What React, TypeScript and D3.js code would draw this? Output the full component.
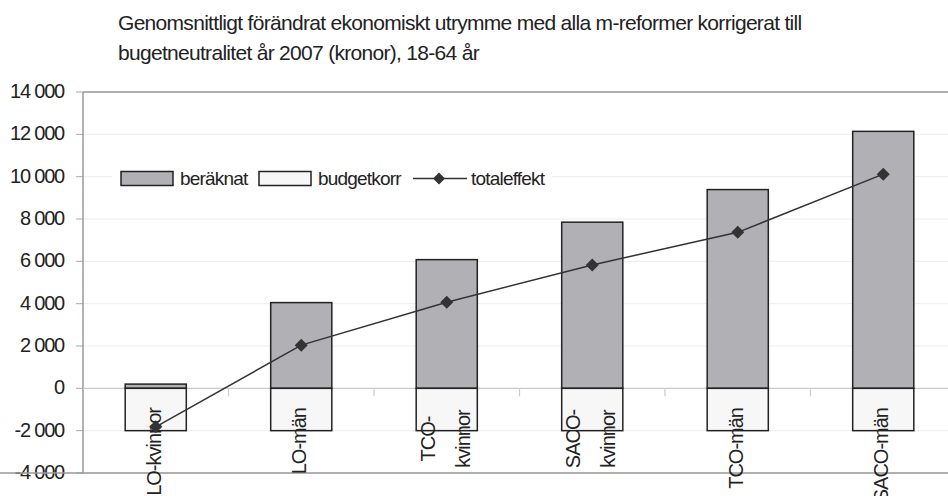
import React from "react";
import * as d3 from "d3";

const categories = ["LO-kvinnor", "LO-män", "TCO-kvinnor", "SACO-kvinnor", "TCO-män", "SACO-män"];
const categoryLines = [["LO-kvinnor"], ["LO-män"], ["TCO-", "kvinnor"], ["SACO-", "kvinnor"], ["TCO-män"], ["SACO-män"]];
const beraknat = [200, 4050, 6080, 7850, 9390, 12140];
const budgetkorr = [-2000, -2000, -2000, -2000, -2000, -2000];
const totaleffekt = [-1820, 2040, 4070, 5830, 7370, 10120];
const yTicks = [-4000, -2000, 0, 2000, 4000, 6000, 8000, 10000, 12000, 14000];
const titleLines = [
  "Genomsnittligt förändrat ekonomiskt utrymme med alla m-reformer korrigerat till",
  "bugetneutralitet år 2007 (kronor), 18-64 år",
];

const W = 948;
const H = 496;
const left = 83;
const right = 956;
const top = 92;
const bottom = 473;
const font = "'Liberation Sans', Arial, sans-serif";

const fmt = (v: number) => {
  const s = d3.format(",")(Math.abs(v)).replace(/,/g, " ");
  return (v < 0 ? "-" : "") + s;
};

export default function App() {
  const x = d3.scaleBand<string>().domain(categories).range([left, right]).paddingInner(0).paddingOuter(0);
  const y = d3.scaleLinear().domain([-4000, 14000]).range([bottom, top]);
  const bw = x.bandwidth() * 0.42;
  const cx = (c: string) => (x(c) as number) + x.bandwidth() / 2;
  const line = d3
    .line<number>()
    .x((_, i) => cx(categories[i]))
    .y((d) => y(d));
  const diamond = (px: number, py: number, r = 6.5) =>
    `M${px},${py - r}L${px + r},${py}L${px},${py + r}L${px - r},${py}Z`;

  const gray = "#b1b1b5";
  const white = "#f7f7f7";
  const stroke = "#222";
  const txt = "#222";

  return (
    <svg width={W} height={H} style={{ position: "absolute", left: 0, top: 0, background: "#fff" }} fontFamily={font}>
      <rect x={0} y={0} width={W} height={H} fill="#fff" />
      {titleLines.map((t, i) => (
        <text key={i} x={118} y={30 + i * 30} fontSize={21} fill={txt} letterSpacing={-0.7}>
          {t}
        </text>
      ))}
      {/* gridlines */}
      {yTicks.map((t) => (
        <line key={"g" + t} x1={left} x2={W} y1={y(t)} y2={y(t)} stroke="#ececec" strokeWidth={1} />
      ))}
      {/* y tick marks and labels */}
      {yTicks.map((t) => (
        <g key={"t" + t}>
          <line x1={left - 7} x2={left} y1={y(t)} y2={y(t)} stroke="#aaa" />
          <text x={64} y={y(t) + 6} fontSize={20} textAnchor="end" fill={txt} letterSpacing={-1.2}>
            {fmt(t)}
          </text>
        </g>
      ))}
      {/* frame */}
      <line x1={left} x2={W} y1={top} y2={top} stroke="#999" strokeWidth={1.5} />
      <line x1={left} x2={left} y1={top} y2={bottom} stroke="#999" strokeWidth={1.5} />
      <line x1={0} x2={W} y1={bottom} y2={bottom} stroke="#999" strokeWidth={1.5} />
      {/* zero axis */}
      <line x1={left} x2={W} y1={y(0)} y2={y(0)} stroke="#ccc" strokeWidth={1.2} />
      {categories.slice(1).map((c) => (
        <line key={"xt" + c} x1={x(c) as number} x2={x(c) as number} y1={y(0)} y2={y(0) + 8} stroke="#ccc" strokeWidth={1.2} />
      ))}
      {/* legend */}
      <rect x={112} y={160} width={440} height={34} fill="#fff" />
      <rect x={121} y={171.5} width={52} height={14} fill={gray} stroke={stroke} strokeWidth={1.5} />
      <text x={180} y={185} fontSize={19} fill={txt} letterSpacing={-0.8}>beräknat</text>
      <rect x={259} y={171.5} width={52} height={14} fill={white} stroke={stroke} strokeWidth={1.5} />
      <text x={318} y={185} fontSize={19} fill={txt} letterSpacing={-0.8}>budgetkorr</text>
      <line x1={413} x2={467} y1={178.5} y2={178.5} stroke="#333" strokeWidth={1.5} />
      <path d={diamond(439, 178.5, 6)} fill="#333" />
      <text x={471} y={185} fontSize={19} fill={txt} letterSpacing={-0.8}>totaleffekt</text>
      {/* bars */}
      {categories.map((c, i) => (
        <g key={"b" + c}>
          <rect x={cx(c) - bw / 2} y={y(beraknat[i])} width={bw} height={y(0) - y(beraknat[i])} fill={gray} stroke={stroke} strokeWidth={1.5} />
          <rect x={cx(c) - bw / 2} y={y(0)} width={bw} height={y(budgetkorr[i]) - y(0)} fill={white} stroke={stroke} strokeWidth={1.5} />
        </g>
      ))}
      {/* category labels */}
      {categories.map((c, i) => {
        const lines = categoryLines[i];
        if (lines.length === 1) {
          return (
            <text key={"l" + c} transform={`translate(${cx(c) + 5},408) rotate(-90)`} fontSize={20} textAnchor="end" fill={txt} letterSpacing={-1}>
              {lines[0]}
            </text>
          );
        }
        return (
          <g key={"l" + c}>
            {lines.map((ln, j) => (
              <text key={j} transform={`translate(${cx(c) - 17 + j * 35 + 5},439) rotate(-90)`} fontSize={20} textAnchor="middle" fill={txt} letterSpacing={-1}>
                {ln}
              </text>
            ))}
          </g>
        );
      })}
      {/* total line */}
      <path d={line(totaleffekt) || ""} fill="none" stroke="#333" strokeWidth={1.5} />
      {totaleffekt.map((v, i) => (
        <path key={"d" + i} d={diamond(cx(categories[i]), y(v))} fill="#333" />
      ))}
    </svg>
  );
}
